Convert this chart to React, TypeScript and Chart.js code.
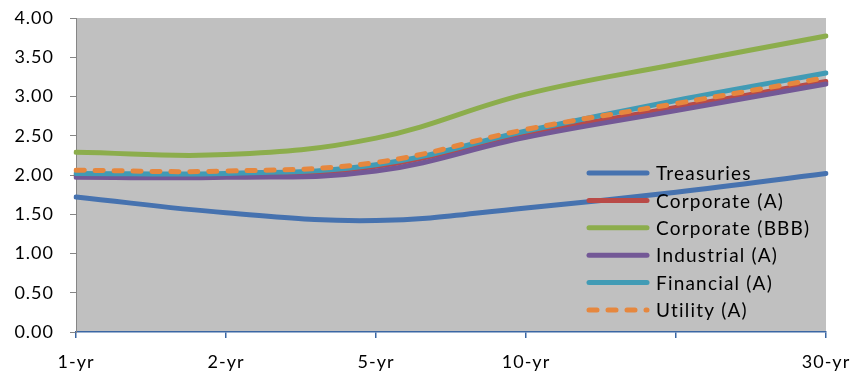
import React, { useEffect, useRef } from "react";
import { Chart, registerables } from "chart.js";

Chart.register(...registerables);

// Maturity buckets on the x axis (the 20-yr bucket carries no label)
const categories = ["1-yr", "2-yr", "5-yr", "10-yr", "", "30-yr"];

// Yields (%) per maturity
const treasuries = [1.72, 1.52, 1.42, 1.58, 1.78, 2.02];
const corporateA = [2.0, 1.99, 2.11, 2.52, 2.86, 3.19];
const corporateBBB = [2.29, 2.26, 2.47, 3.03, 3.41, 3.77];
const industrialA = [1.97, 1.97, 2.05, 2.48, 2.82, 3.16];
const financialA = [2.02, 2.02, 2.13, 2.56, 2.95, 3.3];
const utilityA = [2.06, 2.05, 2.16, 2.58, 2.91, 3.24];

const yTicks = [0, 0.5, 1, 1.5, 2, 2.5, 3, 3.5, 4];

const FONT = "Lato, 'Open Sans', sans-serif";

// Slightly spaced lettering for all canvas text
const spacing = {
  id: "spacing",
  beforeLayout(chart: any) {
    (chart.ctx as any).letterSpacing = "1px";
  },
  beforeDraw(chart: any) {
    (chart.ctx as any).letterSpacing = "1px";
  },
};

// Grey fill behind the plotting area
const plotBackground = {
  id: "plotBackground",
  beforeDraw(chart: any) {
    const { ctx, chartArea } = chart;
    ctx.save();
    ctx.fillStyle = "#C0C0C0";
    ctx.fillRect(
      chartArea.left,
      chartArea.top,
      chartArea.right - chartArea.left,
      chartArea.bottom - chartArea.top
    );
    ctx.restore();
  },
};

// Legend drawn inside the plot, lower right
const insideLegend = {
  id: "insideLegend",
  afterDraw(chart: any) {
    const { ctx, chartArea } = chart;
    const lineX0 = chartArea.left + 511;
    const lineX1 = lineX0 + 62;
    const textX = lineX1 + 7;
    const rowY0 = chartArea.top + 155;
    const rowStep = 27.4;
    ctx.save();
    ctx.font = `19px ${FONT}`;
    (ctx as any).letterSpacing = "1.2px";
    ctx.textBaseline = "middle";
    ctx.textAlign = "left";
    chart.data.datasets.forEach((ds: any, i: number) => {
      const y = rowY0 + i * rowStep;
      ctx.strokeStyle = ds.borderColor;
      ctx.lineWidth = 5;
      ctx.lineCap = "round";
      ctx.setLineDash(ds.borderDash || []);
      ctx.beginPath();
      ctx.moveTo(lineX0 + 2, y);
      ctx.lineTo(lineX1 - 2, y);
      ctx.stroke();
      ctx.setLineDash([]);
      ctx.fillStyle = "#000000";
      ctx.fillText(ds.label, textX, y + 1);
    });
    ctx.restore();
  },
};

function makeSeries(label: string, data: number[], color: string, order: number, dash?: number[]) {
  return {
    label,
    data,
    borderColor: color,
    backgroundColor: color,
    borderWidth: 5,
    borderCapStyle: "round" as const,
    borderDash: dash || [],
    pointRadius: 0,
    tension: 0.4,
    fill: false,
    order,
  };
}

export default function App() {
  const canvasRef = useRef<HTMLCanvasElement | null>(null);

  useEffect(() => {
    if (!canvasRef.current) return;
    const chart = new Chart(canvasRef.current, {
      type: "line",
      data: {
        labels: categories,
        datasets: [
          makeSeries("Treasuries", treasuries, "#4672AF", 5),
          makeSeries("Corporate (A)", corporateA, "#B94A47", 4),
          makeSeries("Corporate (BBB)", corporateBBB, "#8CAD4C", 3),
          makeSeries("Industrial (A)", industrialA, "#735896", 2),
          makeSeries("Financial (A)", financialA, "#419BB5", 1),
          makeSeries("Utility (A)", utilityA, "#E6873E", 0, [8, 11]),
        ],
      },
      options: {
        animation: false,
        responsive: false,
        maintainAspectRatio: false,
        layout: { padding: { left: 0, top: 18, right: 26, bottom: 0 } },
        plugins: {
          legend: { display: false },
          tooltip: { enabled: false },
        },
        scales: {
          x: {
            type: "category",
            offset: false,
            border: { display: true, color: "#3A66A3", width: 1.5 },
            grid: {
              display: true,
              drawOnChartArea: false,
              drawTicks: true,
              tickLength: 6,
              color: "#3A66A3",
              lineWidth: 1.5,
            },
            ticks: {
              autoSkip: false,
              maxRotation: 0,
              padding: 13,
              color: "#000000",
              font: { family: FONT, size: 18 },
            },
            afterFit(scale: any) {
              scale.height = 45;
              scale.paddingLeft = 0;
              scale.paddingRight = 0;
            },
          },
          y: {
            min: 0,
            max: 4,
            border: { display: true, color: "#868686", width: 1 },
            grid: {
              display: true,
              drawOnChartArea: false,
              drawTicks: true,
              tickLength: 6,
              color: "#868686",
            },
            afterBuildTicks(scale: any) {
              scale.ticks = yTicks.map((v) => ({ value: v }));
            },
            ticks: {
              padding: 16,
              color: "#000000",
              font: { family: FONT, size: 18 },
              callback: (v: any) => Number(v).toFixed(2),
            },
            afterFit(scale: any) {
              scale.width = 76;
              scale.paddingTop = 0;
              scale.paddingBottom = 0;
            },
          },
        },
      },
      plugins: [spacing, plotBackground, insideLegend],
    });
    return () => chart.destroy();
  }, []);

  return (
    <div style={{ position: "fixed", left: 0, top: 0, width: 852, height: 377, background: "#ffffff" }}>
      <canvas ref={canvasRef} width={852} height={377} style={{ display: "block", width: 852, height: 377 }} />
    </div>
  );
}
